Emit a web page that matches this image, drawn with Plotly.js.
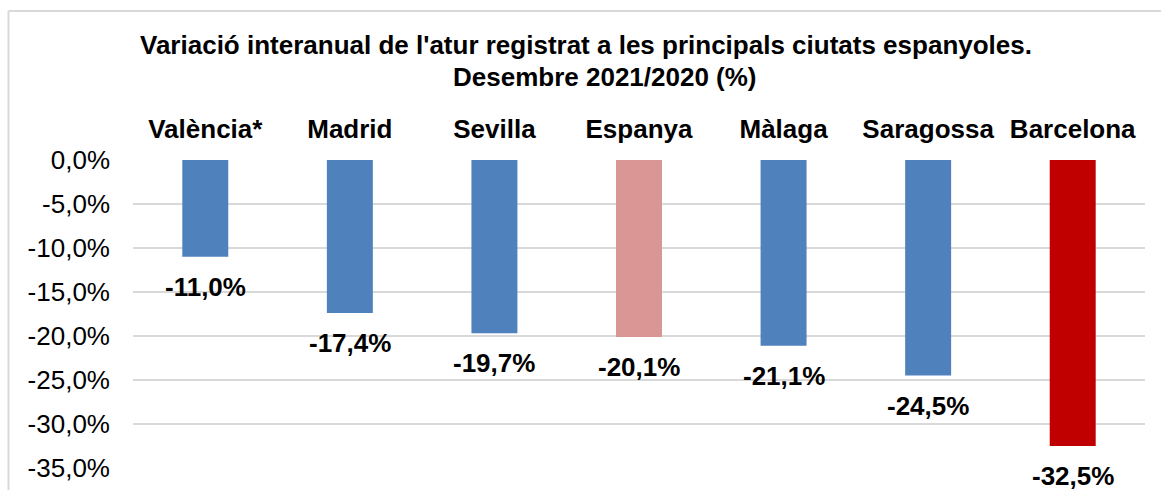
<!DOCTYPE html>
<html>
<head>
<meta charset="utf-8">
<script src="https://cdn.plot.ly/plotly-3.0.1.min.js"></script>
<style>
html,body{margin:0;padding:0;background:#fff;}
#chart{width:1161px;height:490px;}
</style>
</head>
<body>
<div id="chart"></div>
<script>
const categories = ["València*", "Madrid", "Sevilla", "Espanya", "Màlaga", "Saragossa", "Barcelona"];
const values = [-11.0, -17.4, -19.7, -20.1, -21.1, -24.5, -32.5];
const barColors = ["#4F81BD", "#4F81BD", "#4F81BD", "#D99694", "#4F81BD", "#4F81BD", "#C00000"];
const yTickVals = [0, -5, -10, -15, -20, -25, -30, -35];
const yTickText = ["0,0%", "-5,0%", "-10,0%", "-15,0%", "-20,0%", "-25,0%", "-30,0%", "-35,0%"];
const titleLine1 = "Variació interanual de l'atur registrat a les principals ciutats espanyoles.";
const titleLine2 = "Desembre 2021/2020 (%)";

const fmt = v => v.toFixed(1).replace('.', ',') + '%';
const FONT = 'Liberation Sans, Arial, sans-serif';

const ML = 133, MR = 16, MT = 160, MB = 22, W = 1161, H = 490;
const PW = W - ML - MR, PH = H - MT - MB;
const px2x = p => (p - ML) / PW;
const py2y = p => (H - MB - p) / PH;

const trace = {
  type: 'bar',
  x: categories,
  y: values,
  marker: {color: barColors, line: {width: 0}},
  width: 0.318,
  hoverinfo: 'none'
};

const annotations = categories.map((c, i) => ({
  x: c, y: values[i], xref: 'x', yref: 'y',
  text: '<b>' + fmt(values[i]) + '</b>',
  showarrow: false, yanchor: 'top', xanchor: 'center', yshift: -13,
  font: {family: FONT, size: 26, color: '#000'}
}));
annotations.push({
  xref: 'paper', yref: 'paper', x: px2x(605), y: py2y(76.5),
  xanchor: 'center', yanchor: 'middle', showarrow: false,
  text: '<b>' + titleLine2 + '</b>',
  font: {family: FONT, size: 26, color: '#000'}
});

const layout = {
  width: W, height: H,
  margin: {l: ML, r: MR, t: MT, b: MB, pad: 0},
  paper_bgcolor: '#fff', plot_bgcolor: '#fff',
  showlegend: false,
  title: {
    text: '<b>' + titleLine1 + '</b>',
    x: px2x(586), xref: 'paper', xanchor: 'center',
    y: 1 - 45 / H, yref: 'container', yanchor: 'middle',
    font: {family: FONT, size: 26, color: '#000'}
  },
  xaxis: {
    side: 'top', type: 'category',
    showgrid: false, zeroline: false, showline: false, ticks: '',
    ticklabelstandoff: 16,
    tickfont: {family: FONT, size: 26, color: '#000', weight: 'bold'},
    fixedrange: true
  },
  yaxis: {
    range: [-35, 0],
    tickvals: yTickVals, ticktext: yTickText,
    showgrid: true, gridcolor: '#D9D9D9', gridwidth: 2,
    zeroline: false, showline: false, ticks: '',
    ticklabelstandoff: 22,
    tickfont: {family: FONT, size: 26, color: '#000'},
    fixedrange: true
  },
  annotations: annotations,
  shapes: [
    {type: 'line', xref: 'paper', yref: 'paper', x0: px2x(8.5), x1: px2x(8.5), y0: py2y(11), y1: py2y(H + 5), line: {color: '#D9D9D9', width: 2}},
    {type: 'line', xref: 'paper', yref: 'paper', x0: px2x(8.5), x1: px2x(W + 5), y0: py2y(11), y1: py2y(11), line: {color: '#D9D9D9', width: 2}}
  ]
};

Plotly.newPlot('chart', [trace], layout, {displayModeBar: false, staticPlot: true});
</script>
</body>
</html>
